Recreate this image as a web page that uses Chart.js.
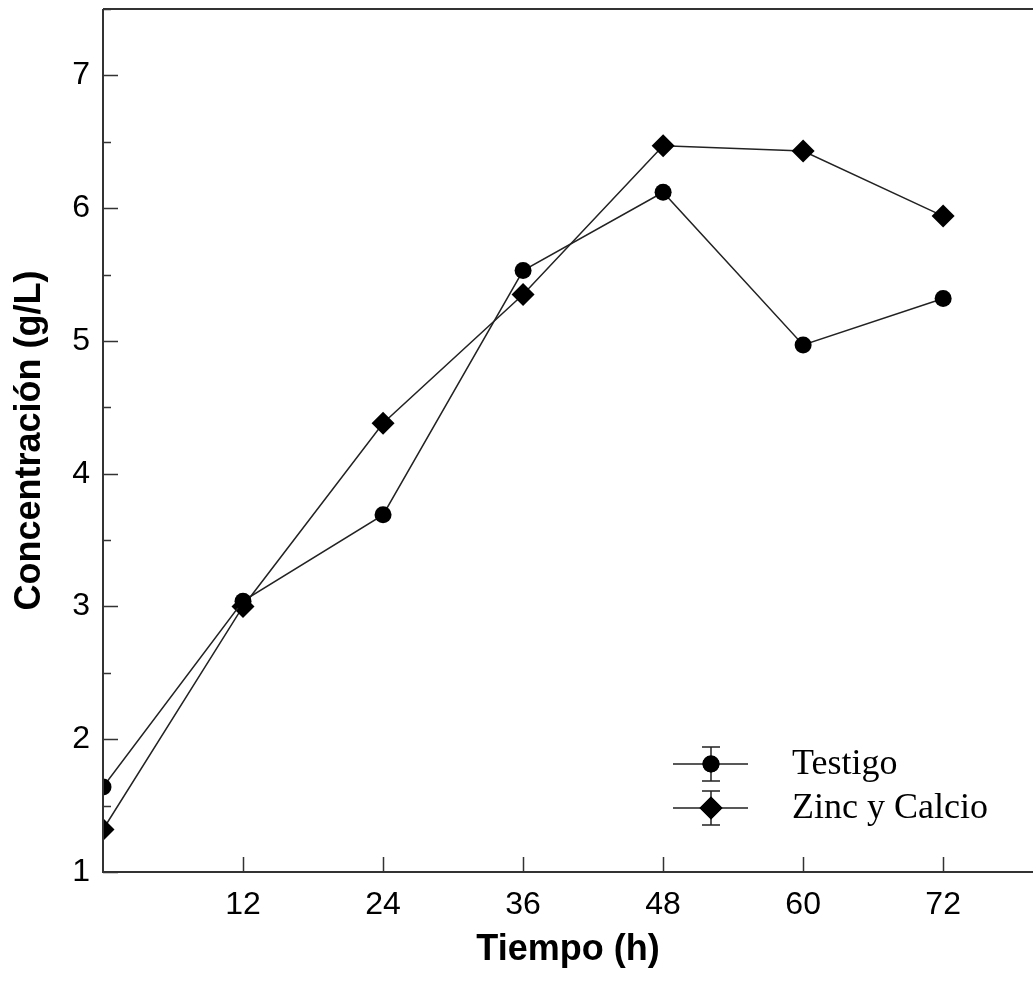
<!DOCTYPE html>
<html>
<head>
<meta charset="utf-8">
<script src="https://cdn.jsdelivr.net/npm/chart.js@4/dist/chart.umd.min.js"></script>
<style>
  html, body { margin: 0; padding: 0; background: #fff; }
  #wrap { width: 1033px; height: 982px; position: relative; }
</style>
</head>
<body>
<div id="wrap"><canvas id="c" width="1033" height="982"></canvas></div>
<script>
const hours = [0, 12, 24, 36, 48, 60, 72];
const testigo = [1.64, 3.04, 3.69, 5.53, 6.12, 4.97, 5.32];
const zincCalcio = [1.32, 3.00, 4.38, 5.35, 6.47, 6.43, 5.94];
const xTickValues = [12, 24, 36, 48, 60, 72];
const yTickValues = [1, 2, 3, 4, 5, 6, 7];
const yMinorValues = [1.5, 2.5, 3.5, 4.5, 5.5, 6.5, 7.5];
const seriesNames = ['Testigo', 'Zinc y Calcio'];
const xTitle = 'Tiempo (h)';
const yTitle = 'Concentración (g/L)';

const AX = '#333';

function zeroPad(s) {
  s.paddingTop = 0; s.paddingBottom = 0; s.paddingLeft = 0; s.paddingRight = 0;
}

const axisPlugin = {
  id: 'axisPlugin',
  afterDatasetsDraw(chart) {
    const ctx = chart.ctx;
    const a = chart.chartArea;
    const xs = chart.scales.x, ys = chart.scales.y;
    ctx.save();
    ctx.strokeStyle = AX;
    ctx.lineWidth = 2;
    ctx.beginPath();
    ctx.moveTo(a.left, a.top); ctx.lineTo(chart.width + 2, a.top);
    ctx.moveTo(a.left, a.top); ctx.lineTo(a.left, a.bottom);
    ctx.lineTo(chart.width + 2, a.bottom);
    ctx.stroke();
    ctx.lineWidth = 1.5;
    ctx.beginPath();
    xTickValues.forEach(v => {
      const px = Math.round(xs.getPixelForValue(v)) + 0.5;
      ctx.moveTo(px, a.bottom); ctx.lineTo(px, a.bottom - 15);
    });
    yTickValues.forEach(v => {
      const py = Math.round(ys.getPixelForValue(v)) + 0.5;
      ctx.moveTo(a.left, py); ctx.lineTo(a.left + 15, py);
    });
    yMinorValues.forEach(v => {
      const py = Math.round(ys.getPixelForValue(v)) + 0.5;
      ctx.moveTo(a.left, py); ctx.lineTo(a.left + 8, py);
    });
    ctx.stroke();

    const entries = [
      { name: seriesNames[0], style: 'circle', r: 8.5, y: 764 },
      { name: seriesNames[1], style: 'rectRot', r: 11.5, y: 808 }
    ];
    entries.forEach(e => {
      ctx.strokeStyle = '#222';
      ctx.lineWidth = 1.5;
      ctx.beginPath();
      ctx.moveTo(673, e.y); ctx.lineTo(748, e.y);
      ctx.moveTo(711, e.y - 17); ctx.lineTo(711, e.y + 17);
      ctx.moveTo(702, e.y - 17); ctx.lineTo(720, e.y - 17);
      ctx.moveTo(702, e.y + 17); ctx.lineTo(720, e.y + 17);
      ctx.stroke();
      ctx.fillStyle = '#000';
      Chart.helpers.drawPoint(ctx, { pointStyle: e.style, radius: e.r, borderWidth: 0 }, 711, e.y);
      ctx.fill();
      ctx.font = '36px "Liberation Serif", "Times New Roman", serif';
      ctx.textBaseline = 'middle';
      ctx.textAlign = 'left';
      ctx.fillText(e.name, 792, e.y + 1);
    });
    ctx.restore();
  }
};

new Chart(document.getElementById('c'), {
  type: 'line',
  data: {
    labels: hours,
    datasets: [
      {
        label: seriesNames[0],
        data: hours.map((h, i) => ({ x: h, y: testigo[i] })),
        borderColor: '#222', borderWidth: 1.5,
        pointStyle: 'circle', pointRadius: 8.5,
        pointBackgroundColor: '#000', pointBorderColor: '#000', pointBorderWidth: 0,
        tension: 0, fill: false, clip: 0
      },
      {
        label: seriesNames[1],
        data: hours.map((h, i) => ({ x: h, y: zincCalcio[i] })),
        borderColor: '#222', borderWidth: 1.5,
        pointStyle: 'rectRot', pointRadius: 11.5,
        pointBackgroundColor: '#000', pointBorderColor: '#000', pointBorderWidth: 0,
        tension: 0, fill: false, clip: 0
      }
    ]
  },
  options: {
    responsive: false,
    animation: false,
    devicePixelRatio: 1,
    layout: { autoPadding: false, padding: { top: 9, right: 0, left: 0, bottom: 0 } },
    plugins: { legend: { display: false }, tooltip: { enabled: false } },
    scales: {
      x: {
        type: 'linear', min: 0, max: 79.7,
        afterBuildTicks: s => { s.ticks = xTickValues.map(v => ({ value: v })); },
        afterFit: s => { s.height = 110; zeroPad(s); },
        grid: { display: false, drawTicks: false },
        border: { display: false },
        ticks: { color: '#000', font: { family: '"Liberation Sans", Arial, sans-serif', size: 32 }, padding: 14, maxRotation: 0 },
        title: { display: true, text: xTitle, color: '#000', font: { family: '"Liberation Sans", Arial, sans-serif', size: 36, weight: 'bold' }, padding: { top: 0, bottom: 10 } }
      },
      y: {
        type: 'linear', min: 1, max: 7.5,
        afterBuildTicks: s => { s.ticks = yTickValues.map(v => ({ value: v })); },
        afterFit: s => { s.width = 103; zeroPad(s); },
        grid: { display: false, drawTicks: false },
        border: { display: false },
        ticks: { color: '#000', font: { family: '"Liberation Sans", Arial, sans-serif', size: 32 }, padding: 13 },
        title: { display: true, text: yTitle, color: '#000', font: { family: '"Liberation Sans", Arial, sans-serif', size: 36, weight: 'bold' }, padding: { top: 8, bottom: 0 } }
      }
    }
  },
  plugins: [axisPlugin]
});
</script>
</body>
</html>
